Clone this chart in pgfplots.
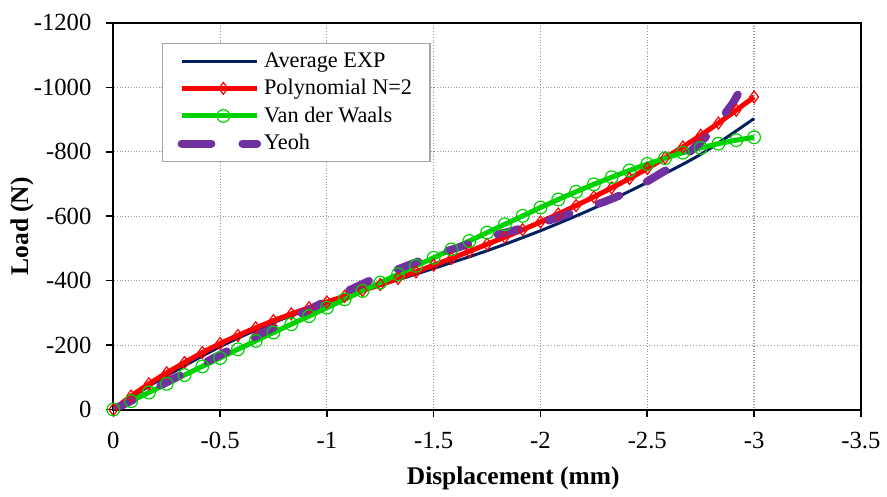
\documentclass[border=0pt]{standalone}
\usepackage{pgfplots}
\pgfplotsset{compat=1.18}
\usepackage{fontspec}
\setmainfont{Liberation Serif}
\definecolor{navyc}{RGB}{0,32,96}
\definecolor{redc}{RGB}{255,0,0}
\definecolor{greenc}{RGB}{0,210,0}
\definecolor{purplec}{RGB}{112,48,160}
\begin{document}
\begin{tikzpicture}
\begin{axis}[
  scale only axis, width=376pt, height=194.5pt,
  x dir=reverse, y dir=reverse,
  xmin=-3.5, xmax=0, ymin=-1200, ymax=0,
  xtick={-3.5,-3,-2.5,-2,-1.5,-1,-0.5,0},
  xticklabels={-3.5,-3,-2.5,-2,-1.5,-1,-0.5,0},
  ytick={-1200,-1000,-800,-600,-400,-200,0},
  yticklabels={-1200,-1000,-800,-600,-400,-200,0},
  tick align=outside, major tick length=3.5pt,
  xtick pos=bottom, ytick pos=left,
  tick style={black, line width=0.8pt},
  axis line style={black, line width=1pt},
  grid=major,
  grid style={densely dotted, gray!80, line width=0.6pt},
  tick label style={font=\rmfamily\fontsize{12.4}{14}\selectfont},
  xticklabel style={yshift=-4.5pt},
  yticklabel style={xshift=-4pt},
  xlabel={\textbf{Displacement (mm)}},
  ylabel={\textbf{Load (N)}},
  label style={font=\fontsize{12.8}{14}\selectfont},
  xlabel style={at={(axis description cs:0.535,-0.178)}, anchor=center},
  ylabel style={at={(axis description cs:-0.1223,0.474)}, anchor=center},
  legend style={at={(axis description cs:0.065,0.949)}, anchor=north west,
    draw=gray!70, line width=0.8pt, font=\fontsize{11.2}{13}\selectfont,
    inner xsep=7.5pt, inner ysep=2.5pt, row sep=0.6pt, cells={anchor=west},
    nodes={inner xsep=1.5pt}},
  legend image code/.code={\path (0pt,0pt) -- (4pt,0pt);
    \draw[mark repeat=2,mark phase=2] plot coordinates {(4pt,0pt) (21pt,0pt) (38pt,0pt)};},
]
\addplot[navyc, line width=1.5pt, smooth] coordinates {
(0,0) (-0.125,-55) (-0.25,-105) (-0.5,-195) (-0.75,-270) (-1,-330) (-1.25,-385)
(-1.5,-438) (-1.75,-493) (-2,-555) (-2.25,-625) (-2.5,-705) (-2.75,-792) (-3,-903)};
\addlegendentry{Average EXP}
\addplot[redc, line width=2.5pt, mark=diamond, mark size=3pt,
  mark options={solid, fill=none, line width=0.6pt}] coordinates {
(0,0) (-0.0833,-42) (-0.1667,-80) (-0.25,-114) (-0.3333,-146) (-0.4167,-177)
(-0.5,-205) (-0.5833,-230) (-0.6667,-254) (-0.75,-276) (-0.8333,-297) (-0.9167,-316)
(-1,-334) (-1.0833,-352) (-1.1667,-370) (-1.25,-388) (-1.3333,-407) (-1.4167,-427)
(-1.5,-448) (-1.5833,-469) (-1.6667,-491) (-1.75,-513) (-1.8333,-535) (-1.9167,-558)
(-2,-582) (-2.0833,-607) (-2.1667,-633) (-2.25,-660) (-2.3333,-688) (-2.4167,-717)
(-2.5,-748) (-2.5833,-781) (-2.6667,-815) (-2.75,-851) (-2.8333,-889) (-2.9167,-929)
(-3,-970)};
\addlegendentry{Polynomial N=2}
\addplot[greenc, line width=2.5pt, mark=o, mark size=3.2pt,
  mark options={solid, fill=none, line width=0.6pt}] coordinates {
(0,0) (-0.0833,-26) (-0.1667,-53) (-0.25,-80) (-0.3333,-107) (-0.4167,-134)
(-0.5,-160) (-0.5833,-187) (-0.6667,-213) (-0.75,-239) (-0.8333,-265) (-0.9167,-290)
(-1,-316) (-1.0833,-342) (-1.1667,-368) (-1.25,-394) (-1.3333,-420) (-1.4167,-446)
(-1.5,-471) (-1.5833,-497) (-1.6667,-523) (-1.75,-549) (-1.8333,-575) (-1.9167,-601)
(-2,-627) (-2.0833,-652) (-2.1667,-676) (-2.25,-699) (-2.3333,-721) (-2.4167,-742)
(-2.5,-762) (-2.5833,-780) (-2.6667,-797) (-2.75,-812) (-2.8333,-825) (-2.9167,-836)
(-3,-845)};
\addlegendentry{Van der Waals}
\addplot[purplec, line width=4pt, line cap=round, dash pattern=on 11pt off 15.6pt] coordinates {
(0,0) (-0.1,-32) (-0.25,-85) (-0.5,-170) (-0.75,-255) (-1,-338) (-1.2,-400)
(-1.35,-440) (-1.5,-478) (-1.6,-500) (-1.7,-521) (-1.8,-543) (-1.9,-560) (-2,-578)
(-2.1,-600) (-2.2,-622) (-2.3,-645) (-2.4,-672) (-2.5,-708) (-2.6,-748) (-2.7,-800)
(-2.8,-862) (-2.9,-950) (-2.93,-985)};
\addlegendentry{Yeoh}
\end{axis}
\path (current axis.south west) ++(-57pt,-39.5pt) rectangle ++(443.5pt,245.5pt);
\end{tikzpicture}
\end{document}
